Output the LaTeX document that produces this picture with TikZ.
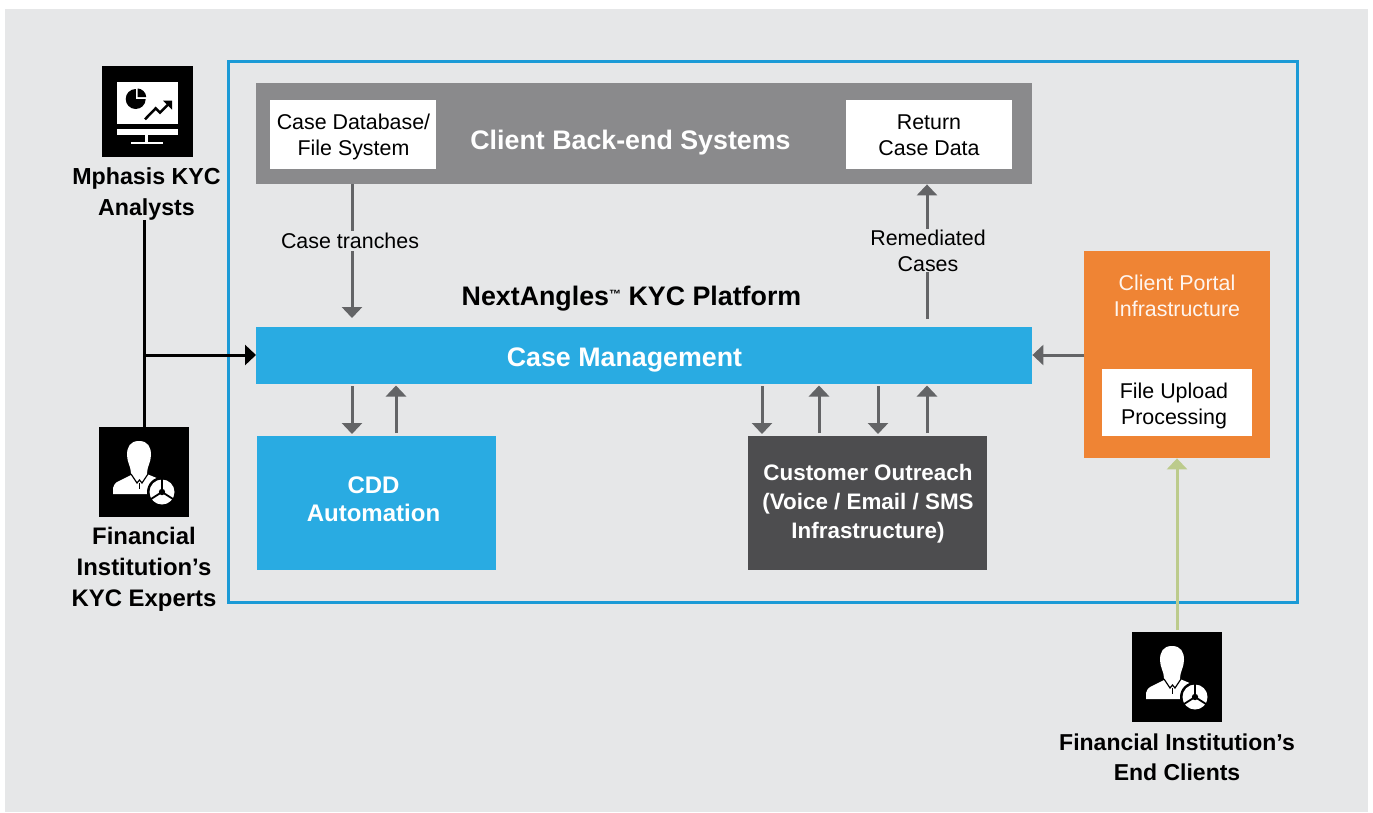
\documentclass[tikz,border=0pt]{standalone}
\usepackage{fontspec}
\setmainfont{Liberation Sans}
\usetikzlibrary{arrows.meta}
\definecolor{pagebg}{HTML}{E6E7E8}
\definecolor{frameblue}{HTML}{1B9AD6}
\definecolor{caseblue}{HTML}{29ABE2}
\definecolor{backgray}{HTML}{8A8A8C}
\definecolor{darkbox}{HTML}{4D4D4F}
\definecolor{orangebox}{HTML}{EF8434}
\definecolor{arrowgray}{HTML}{636466}
\definecolor{greenline}{HTML}{BCCB8C}
\tikzset{
  x=1pt,y=-1pt,
  box/.style={draw=none,minimum width=#1,inner sep=0pt,anchor=north west},
  bigtxt/.style={font=\fontsize{26.8}{28}\selectfont\bfseries,text=white,align=center,inner sep=0pt},
  midtxt/.style={font=\fontsize{21.4}{26}\selectfont,align=center,inner sep=0pt},
  lbl/.style={font=\fontsize{23.2}{31}\selectfont\bfseries,align=center,text=black,inner sep=0pt},
  tip/.style={-{Triangle[length=11pt,width=20pt]}},
  grayarrow/.style={draw=arrowgray,line width=3pt,tip},
  persona/.pic={
    \fill[black] (0,0) rectangle (90,90);
    \fill[white] (14,67) -- (14,61) .. controls (15,58) and (16,56) .. (18,55) -- (32,48) -- (48,47) -- (60,52) -- (60,67) -- cycle;
    \fill[white] (40,14) .. controls (49,14) and (52,20) .. (52,28) .. controls (52,35) and (48,40) .. (48,46) -- (48,50) -- (32,50) -- (32,46) .. controls (32,40) and (28,35) .. (28,28) .. controls (28,20) and (31,14) .. (40,14) -- cycle;
    \draw[black,line width=1.2pt] (32,47) -- (38,56) -- (40.5,53) -- (43,56) -- (49,47);
    \draw[black,line width=1.2pt] (40.5,56) -- (40.5,62);
    \fill[black] (63,65) circle (15);
    \fill[white] (63,65) circle (12.5);
    \draw[black,line width=1.8pt] (63,65) -- (63,52) (63,65) -- (52,72) (63,65) -- (74,72);
    \fill[black] (63,65) circle (3.2);
  },
  monitor/.pic={
    \fill[black] (0,0) rectangle (91,90.5);
    \fill[white] (15,15.7) rectangle (75.7,58);
    \fill[white] (14.7,63.3) rectangle (75.7,69.3);
    \fill[white] (43.3,69.3) rectangle (46,76);
    \fill[white] (28.7,76) rectangle (61.3,78);
    \fill[black] (33.7,33) circle (10);
    \fill[white] (33.7,21) rectangle (46,33);
    \fill[black] (35.7,31) -- (35.7,22.5) .. controls (40,22.5) and (44.2,26.7) .. (44.2,31) -- cycle;
    \draw[black,line width=2.5pt] (43,53.3) -- (53.7,42.3) -- (58,46.7) -- (67,37.7);
    \fill[black] (61,34.7) -- (70,34.7) -- (70,43.7) -- cycle;
  }
}
\begin{document}
\begin{tikzpicture}
\useasboundingbox (0,0) rectangle (1373,812);
\fill[white] (0,0) rectangle (1373,812);
\fill[pagebg] (5,9) rectangle (1368,812);
\draw[frameblue,line width=3pt] (228.5,61.5) rectangle (1297.5,602);

% boxes
\node[box=776pt,minimum height=101pt,fill=backgray] (back) at (256,83) {};
\node[bigtxt] (backt) at (630.5,143) {Client Back-end Systems};
\node[box=166pt,minimum height=69pt,fill=white] (cdb) at (270,100) {};
\node[midtxt] (cdbt) at (353.5,137) {Case Database/\\File System};
\node[box=166pt,minimum height=69pt,fill=white] (ret) at (846,100) {};
\node[midtxt] (rett) at (929,135.5) {Return\\Case Data};
\node[box=776pt,minimum height=57pt,fill=caseblue] (cm) at (256,327) {};
\node[bigtxt] (cmt) at (624.5,360) {Case Management};
\node[font=\fontsize{26.8}{29}\selectfont\bfseries,inner sep=0pt] (title) at (631.5,299) {NextAngles\raisebox{7pt}{\fontsize{12}{12}\selectfont™} KYC Platform};
\node[box=239pt,minimum height=134pt,fill=caseblue] (cdd) at (257,436) {};
\node[bigtxt,font=\fontsize{24}{28}\selectfont\bfseries] (cddt) at (373.5,499.5) {CDD\\Automation};
\node[box=239pt,minimum height=134pt,fill=darkbox] (out) at (748,436) {};
\node[bigtxt,font=\fontsize{22.4}{29}\selectfont\bfseries] (outt) at (868,504) {Customer Outreach\\(Voice / Email / SMS\\Infrastructure)};
\node[box=186pt,minimum height=207pt,fill=orangebox] (portal) at (1084,251) {};
\node[midtxt,text=white!92!orangebox] (portalt) at (1177,296) {Client Portal\\Infrastructure};
\node[box=150pt,minimum height=67pt,fill=white] (file) at (1102,369) {};
\node[midtxt] (filet) at (1174,405.5) {File Upload\\Processing};

% icons
\pic (ic1) at (102,66) {monitor};
\pic (ic2) at (99,427) {persona};
\pic (ic3) at (1132,632) {persona};
\coordinate (ic2top) at (144,427);
\coordinate (ic3top) at (1177,630);

% actor labels
\node[lbl] (mph) at (146.5,193.5) {Mphasis KYC\\Analysts};
\node[lbl,font=\fontsize{23.9}{31}\selectfont\bfseries] (fik) at (144,569) {Financial\\Institution’s\\KYC Experts};
\node[lbl,font=\fontsize{23}{30}\selectfont\bfseries] (fic) at (1177,757) {Financial Institution’s\\End Clients};

% connectors
\coordinate (j) at (144,355);
\draw[draw=black,line width=3pt] (mph.south -| j) -- (ic2top);
\draw[draw=black,line width=3pt,tip] (j) -- (cm.west |- j);
\draw[draw=greenline,line width=3pt,tip] (ic3top) -- (portal.south -| ic3top);
\draw[grayarrow] (portal.west |- j) -- (cm.east |- j);

\coordinate (a1) at (352,318);
\coordinate (a2) at (927,319);
\draw[grayarrow] (back.south -| a1) -- (a1);
\draw[grayarrow] (a2) -- (back.south -| a2);
\node[fill=pagebg,midtxt,inner ysep=2pt,inner xsep=1pt] (ct) at (350,241) {Case tranches};
\node[fill=pagebg,midtxt,inner sep=1pt] (rc) at (928,250.5) {Remediated\\Cases};

\foreach \x in {352,762,878}{
  \draw[grayarrow] (\x,386) -- (\x,434);
}
\foreach \x in {396,819,927}{
  \draw[grayarrow] (\x,433) -- (\x,385.5);
}
\end{tikzpicture}
\end{document}
